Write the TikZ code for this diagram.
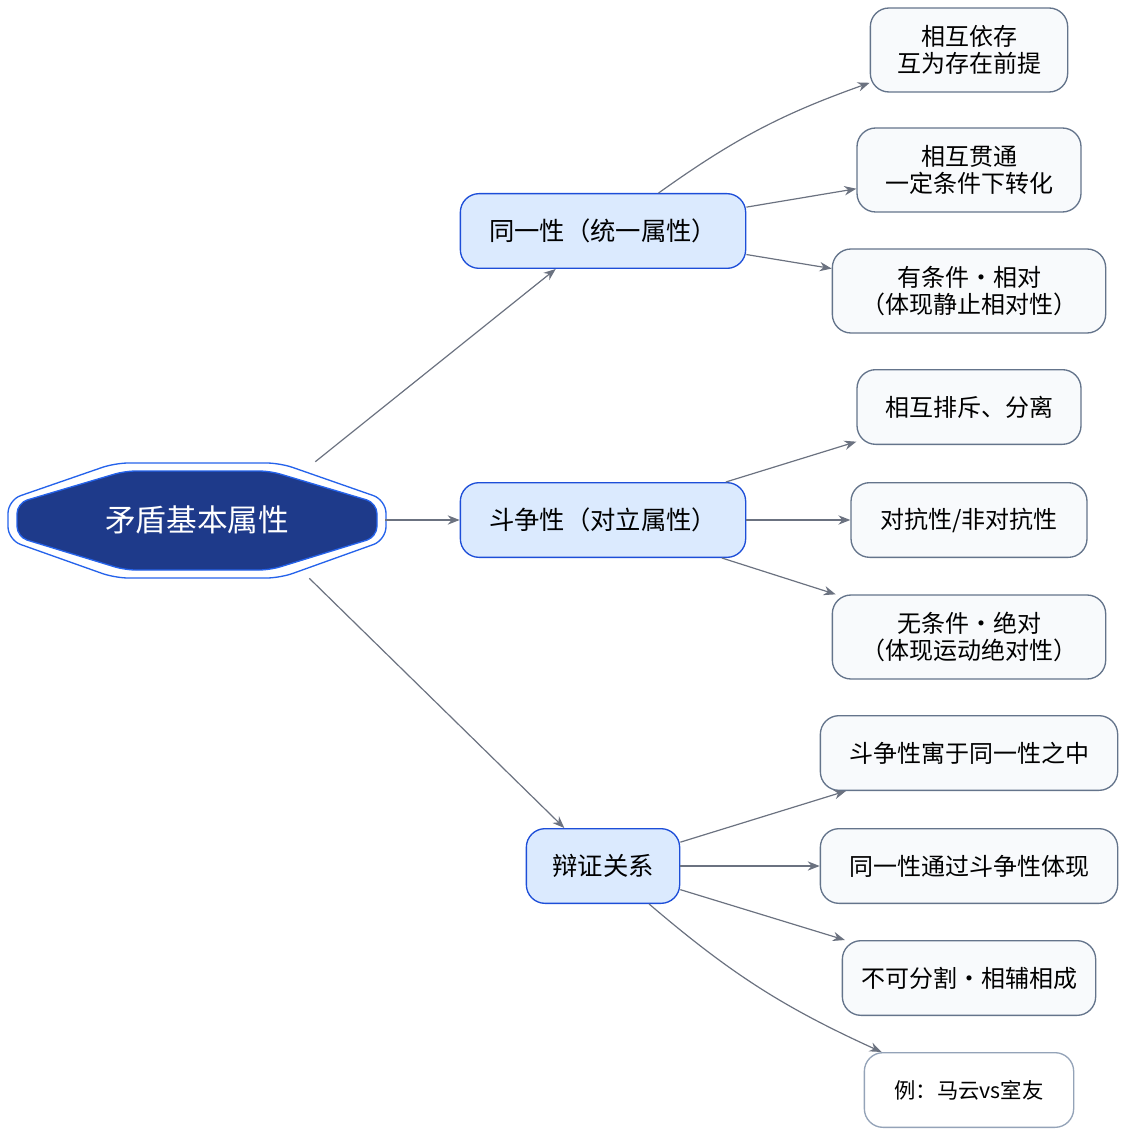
\documentclass[tikz,border=0pt]{standalone}
\usepackage{fontspec}
\setmainfont{Noto Sans CJK SC}
\usetikzlibrary{arrows.meta,positioning}
\definecolor{rootfill}{HTML}{1E3A8A}
\definecolor{rootline}{HTML}{2563EB}
\definecolor{midfill}{HTML}{DBEAFE}
\definecolor{midline}{HTML}{1D4ED8}
\definecolor{leaffill}{HTML}{F8FAFC}
\definecolor{leafline}{HTML}{64748B}
\definecolor{lightline}{HTML}{94A3B8}
\definecolor{edgecol}{HTML}{6B7280}

\begin{document}
\begin{tikzpicture}[x=0.75pt,y=-0.75pt,
  every node/.style={font=\fontsize{18}{20}\selectfont},
  mid/.style={draw=midline,line width=1pt,fill=midfill,rounded corners=14pt,minimum height=56pt,align=center,font=\fontsize{19}{21}\selectfont},
  leaf/.style={draw=leafline,line width=1pt,fill=leaffill,rounded corners=14pt,align=center},
  link/.style={-{Stealth[length=9pt,width=7pt]},edgecol,line width=0.9pt}
]
\useasboundingbox (0,0) rectangle (1127,1137);
% root octagon
\draw[rootline,line width=1pt,fill=white,rounded corners=10pt] (8,500) -- (115,463) -- (280,463) -- (386,500) -- (386,540) -- (280,578) -- (115,578) -- (8,540) -- cycle;
\draw[rootline,line width=1pt,fill=rootfill,rounded corners=8pt] (17,503) -- (125,471) -- (270,471) -- (377,503) -- (377,537) -- (270,570) -- (125,570) -- (17,537) -- cycle;
\node[minimum width=282pt,minimum height=87pt,text=white,font=\fontsize{23}{25}\selectfont] (root) at (197,520) {矛盾基本属性};

\node[mid,minimum width=214pt] (same) at (603,231) {同一性（统一属性）};
\node[mid,minimum width=214pt] (fight) at (603,520) {斗争性（对立属性）};
\node[mid,minimum width=115pt] (dial) at (603,866) {辩证关系};

\node[leaf,minimum width=148pt,minimum height=63pt] (s1) at (969,50) {相互依存\\互为存在前提};
\node[leaf,minimum width=168pt,minimum height=63pt] (s2) at (969,170) {相互贯通\\一定条件下转化};
\node[leaf,minimum width=205pt,minimum height=63pt] (s3) at (969,291) {有条件·相对\\（体现静止相对性）};
\node[leaf,minimum width=168pt,minimum height=56pt] (f1) at (969,407) {相互排斥、分离};
\node[leaf,minimum width=177pt,minimum height=56pt] (f2) at (969,520) {对抗性/非对抗性};
\node[leaf,minimum width=205pt,minimum height=63pt] (f3) at (969,637) {无条件·绝对\\（体现运动绝对性）};
\node[leaf,minimum width=223pt,minimum height=56pt] (d1) at (969,753) {斗争性寓于同一性之中};
\node[leaf,minimum width=223pt,minimum height=56pt] (d2) at (969,866) {同一性通过斗争性体现};
\node[leaf,minimum width=190pt,minimum height=56pt] (d3) at (969,978) {不可分割·相辅相成};
\node[leaf,draw=lightline,fill=white,minimum width=157pt,minimum height=56pt,font=\fontsize{16}{18}\selectfont] (d4) at (969,1090) {例：马云vs室友};

\draw[link] (root.north east) ++(-70,0) coordinate (r1) (r1) -- (same);
\draw[link] (root) -- (fight);
\draw[link] (root.south east) ++(-76,0) coordinate (r3) (r3) -- (dial);

\draw[link] (same) to[bend left=8] (s1);
\draw[link] (same) -- (s2);
\draw[link] (same) -- (s3);
\draw[link] (fight) -- (f1);
\draw[link] (fight) -- (f2);
\draw[link] (fight) -- (f3);
\draw[link] (dial) -- (d1);
\draw[link] (dial) -- (d2);
\draw[link] (dial) -- (d3);
\draw[link] (dial) to[bend right=8] (d4);
\end{tikzpicture}
\end{document}
